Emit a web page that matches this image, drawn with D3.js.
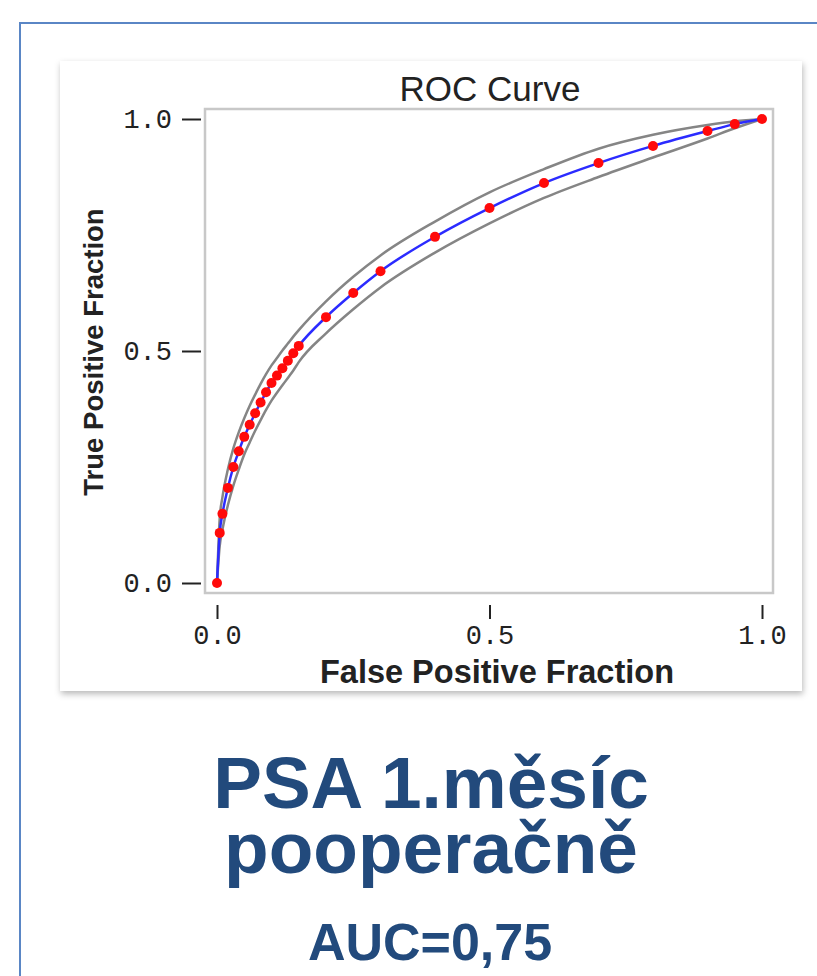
<!DOCTYPE html>
<html lang="cs">
	<head>
		<meta charset="utf-8">
		<title>ROC Curve - PSA 1.měsíc pooperačně</title>
		<script type="text/javascript" src="https://cdn.jsdelivr.net/npm/d3@7"></script>
		<style type="text/css">
			html, body {
				margin: 0;
				padding: 0;
				background-color: white;
			}
			svg { display: block; }
		</style>
	</head>
	<body>
		<script type="text/javascript">

			//Chart data
			var fpf = [0, 0.005, 0.01, 0.02, 0.03, 0.04, 0.05, 0.06, 0.07, 0.08, 0.09, 0.10, 0.11, 0.12, 0.13, 0.14, 0.15, 0.20, 0.25, 0.30, 0.40, 0.50, 0.60, 0.70, 0.80, 0.90, 0.95, 1.0];
			var tpf = [0, 0.108, 0.149, 0.205, 0.250, 0.284, 0.315, 0.341, 0.366, 0.389, 0.411, 0.431, 0.447, 0.463, 0.479, 0.495, 0.511, 0.573, 0.625, 0.672, 0.746, 0.808, 0.862, 0.905, 0.942, 0.974, 0.989, 1.0];
			var upperBand = [0, 0.140, 0.185, 0.245, 0.290, 0.325, 0.355, 0.382, 0.406, 0.429, 0.450, 0.469, 0.485, 0.501, 0.516, 0.531, 0.545, 0.607, 0.660, 0.706, 0.779, 0.842, 0.892, 0.936, 0.966, 0.987, 0.995, 1.0];
			var lowerBand = [0, 0.080, 0.115, 0.168, 0.210, 0.245, 0.277, 0.303, 0.328, 0.351, 0.373, 0.393, 0.410, 0.426, 0.442, 0.458, 0.476, 0.538, 0.590, 0.637, 0.712, 0.775, 0.830, 0.875, 0.917, 0.958, 0.980, 1.0];
			var tickValues = [0, 0.5, 1.0];

			//Width and height
			var w = 817;
			var h = 976;

			var svg = d3.select("body")
						.append("svg")
						.attr("width", w)
						.attr("height", h);

			//Drop shadow for the chart card
			var defs = svg.append("defs");
			var shadow = defs.append("filter")
							.attr("id", "shadow")
							.attr("x", "-5%").attr("y", "-5%")
							.attr("width", "110%").attr("height", "110%");
			shadow.append("feDropShadow")
				.attr("dx", 1).attr("dy", 3)
				.attr("stdDeviation", 3)
				.attr("flood-color", "#000")
				.attr("flood-opacity", 0.28);

			var blur = defs.append("filter").attr("id", "soft");
			blur.append("feGaussianBlur").attr("stdDeviation", 0.6);

			//Blue slide frame
			svg.append("path")
				.attr("d", "M20,976 L20,23 L817,23")
				.attr("fill", "none")
				.attr("stroke", "#5a86c5")
				.attr("stroke-width", 2);

			//Card
			svg.append("rect")
				.attr("x", 60).attr("y", 61)
				.attr("width", 742).attr("height", 630)
				.attr("fill", "white")
				.attr("filter", "url(#shadow)");

			//Scales
			var x = d3.scaleLinear().domain([0, 1]).range([217, 762]);
			var y = d3.scaleLinear().domain([0, 1]).range([583, 119]);

			//Plot frame
			svg.append("rect")
				.attr("x", 205).attr("y", 109)
				.attr("width", 568).attr("height", 484)
				.attr("fill", "white")
				.attr("stroke", "#c8c8c8")
				.attr("stroke-width", 2.5);

			//Axes
			var fmt = d3.format(".1f");

			var yAxis = svg.append("g")
				.attr("transform", "translate(201,0)")
				.call(d3.axisLeft(y).tickValues(tickValues).tickFormat(fmt).tickSize(19).tickPadding(10));

			var xAxis = svg.append("g")
				.attr("transform", "translate(0,605)")
				.call(d3.axisBottom(x).tickValues(tickValues).tickFormat(fmt).tickSize(14).tickPadding(6));

			[yAxis, xAxis].forEach(function(g) {
				g.select(".domain").remove();
				g.selectAll(".tick line").attr("stroke", "#222").attr("stroke-width", 2);
				g.selectAll(".tick text")
					.attr("fill", "#222")
					.attr("font-family", "'Liberation Mono', 'DejaVu Sans Mono', monospace")
					.attr("font-size", "27px");
			});

			//Confidence bands and fitted curve
			var line = d3.line()
						.x(function(d) { return x(d[0]); })
						.y(function(d) { return y(d[1]); })
						.curve(d3.curveMonotoneX);

			[upperBand, lowerBand].forEach(function(band) {
				svg.append("path")
					.datum(fpf.map(function(f, i) { return [f, band[i]]; }))
					.attr("d", line)
					.attr("fill", "none")
					.attr("stroke", "#858585")
					.attr("stroke-width", 2.5)
					.attr("filter", "url(#soft)");
			});

			var points = fpf.map(function(f, i) { return [f, tpf[i]]; });

			svg.append("path")
				.datum(points)
				.attr("d", line)
				.attr("fill", "none")
				.attr("stroke", "#2b2bff")
				.attr("stroke-width", 2.5);

			svg.selectAll("circle.pt")
				.data(points)
				.enter()
				.append("circle")
				.attr("class", "pt")
				.attr("cx", function(d) { return x(d[0]); })
				.attr("cy", function(d) { return y(d[1]); })
				.attr("r", 5)
				.attr("fill", "#ff0a0a");

			//Chart title and axis labels
			svg.append("text")
				.attr("x", 490).attr("y", 101)
				.attr("text-anchor", "middle")
				.attr("font-family", "'Liberation Sans', Arial, sans-serif")
				.attr("font-size", "35px")
				.attr("fill", "#222")
				.text("ROC Curve");

			svg.append("text")
				.attr("x", 497).attr("y", 683)
				.attr("text-anchor", "middle")
				.attr("font-family", "'Liberation Sans', Arial, sans-serif")
				.attr("font-weight", "bold")
				.attr("font-size", "32.5px")
				.attr("fill", "#222")
				.text("False Positive Fraction");

			svg.append("text")
				.attr("transform", "translate(103,352) rotate(-90)")
				.attr("text-anchor", "middle")
				.attr("font-family", "'Liberation Sans', Arial, sans-serif")
				.attr("font-weight", "bold")
				.attr("font-size", "27.5px")
				.attr("fill", "#222")
				.text("True Positive Fraction");

			//Slide caption
			var caption = svg.append("g")
				.attr("font-family", "'Liberation Sans', Arial, sans-serif")
				.attr("font-weight", "bold")
				.attr("fill", "#224a7c")
				.attr("text-anchor", "middle");

			caption.append("text").attr("x", 431).attr("y", 808).attr("font-size", "73px").text("PSA 1.měsíc");
			caption.append("text").attr("x", 431).attr("y", 873).attr("font-size", "73px").text("pooperačně");
			caption.append("text").attr("x", 430).attr("y", 960).attr("font-size", "52px").text("AUC=0,75");

		</script>
	</body>
</html>
